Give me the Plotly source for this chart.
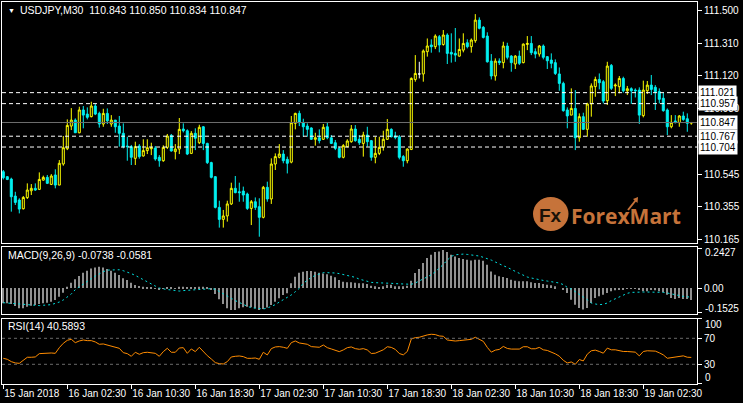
import plotly.graph_objects as go

# ---------------- data ----------------
opens = [
110.560,110.531,110.517,110.418,110.395,110.344,110.409,110.449,110.463,110.457,
110.511,110.527,110.486,110.541,110.482,110.605,110.694,110.826,110.861,110.787,
110.920,110.896,110.881,110.943,110.900,110.838,110.900,110.838,110.861,110.826,
110.784,110.710,110.706,110.638,110.710,110.652,110.683,110.694,110.698,110.644,
110.624,110.702,110.772,110.677,110.692,110.809,110.799,110.667,110.784,110.729,
110.822,110.725,110.613,110.531,110.352,110.282,110.302,110.372,110.463,110.443,
110.447,110.430,110.346,110.385,110.356,110.294,110.469,110.401,110.605,110.644,
110.663,110.632,110.616,110.842,110.900,110.846,110.826,110.815,110.749,110.758,
110.749,110.822,110.758,110.729,110.696,110.644,110.706,110.735,110.809,110.749,
110.725,110.774,110.741,110.644,110.667,110.702,110.749,110.807,110.768,110.764,
110.648,110.624,110.690,111.098,111.130,111.130,111.260,111.299,111.289,111.347,
111.302,111.357,111.256,111.250,111.234,111.269,111.312,111.289,111.324,111.444,
111.402,111.351,111.205,111.118,111.205,111.196,111.293,111.234,111.188,111.234,
111.196,111.302,111.308,111.260,111.246,111.293,111.231,111.211,111.196,111.130,
111.075,110.920,110.890,110.929,110.758,110.881,110.807,110.955,111.056,111.098,
111.085,110.974,111.180,111.060,111.056,111.104,111.032,111.044,111.036,111.036,
110.887,111.032,111.065,111.052,111.027,110.988,110.920,110.822,110.856,110.846,
110.885,110.869,110.843]
highs = [
110.570,110.535,110.525,110.443,110.405,110.418,110.492,110.488,110.492,110.556,
110.537,110.541,110.546,110.574,110.628,110.768,110.865,110.931,110.871,110.939,
110.943,110.935,110.968,110.955,110.910,110.927,110.929,110.890,110.861,110.885,
110.842,110.764,110.716,110.735,110.721,110.749,110.749,110.729,110.710,110.657,
110.714,110.780,110.780,110.721,110.873,110.842,110.807,110.797,110.813,110.834,
110.826,110.729,110.618,110.535,110.391,110.337,110.391,110.496,110.535,110.496,
110.473,110.438,110.395,110.410,110.405,110.477,110.502,110.638,110.667,110.721,
110.686,110.648,110.885,110.904,110.916,110.869,110.842,110.819,110.787,110.807,
110.838,110.846,110.774,110.745,110.706,110.721,110.749,110.832,110.832,110.774,
110.793,110.822,110.745,110.764,110.764,110.799,110.867,110.813,110.793,110.774,
110.657,110.696,111.110,111.240,111.201,111.273,111.337,111.332,111.361,111.357,
111.386,111.367,111.367,111.398,111.337,111.367,111.332,111.337,111.479,111.460,
111.409,111.373,111.246,111.221,111.221,111.318,111.312,111.240,111.240,111.266,
111.308,111.351,111.351,111.279,111.299,111.302,111.234,111.250,111.215,111.168,
111.085,110.935,111.046,111.036,110.900,110.904,110.962,111.075,111.114,111.133,
111.095,111.201,111.188,111.075,111.118,111.114,111.060,111.052,111.046,111.052,
111.091,111.089,111.124,111.065,111.046,111.021,110.929,110.890,110.890,110.890,
110.910,110.900,110.850]
lows = [
110.515,110.511,110.327,110.366,110.317,110.340,110.401,110.424,110.449,110.453,
110.508,110.488,110.482,110.463,110.482,110.595,110.686,110.803,110.787,110.784,
110.813,110.865,110.877,110.890,110.817,110.822,110.838,110.822,110.787,110.706,
110.696,110.624,110.599,110.599,110.636,110.648,110.663,110.657,110.624,110.589,
110.618,110.692,110.677,110.632,110.663,110.789,110.657,110.663,110.686,110.721,
110.686,110.605,110.521,110.346,110.234,110.234,110.269,110.366,110.434,110.385,
110.385,110.337,110.249,110.337,110.181,110.288,110.385,110.372,110.570,110.638,
110.609,110.550,110.609,110.807,110.826,110.764,110.764,110.745,110.712,110.725,
110.745,110.749,110.721,110.686,110.638,110.638,110.702,110.729,110.735,110.716,
110.648,110.706,110.624,110.609,110.657,110.683,110.745,110.760,110.749,110.632,
110.589,110.609,110.686,111.085,111.104,111.085,111.231,111.254,111.275,111.256,
111.295,111.188,111.196,111.201,111.231,111.256,111.279,111.254,111.312,111.390,
111.337,111.196,111.098,111.091,111.182,111.163,111.215,111.143,111.159,111.182,
111.192,111.269,111.240,111.221,111.231,111.215,111.159,111.163,111.124,111.032,
110.910,110.813,110.890,110.686,110.735,110.803,110.764,110.881,110.997,111.040,
110.958,110.949,111.036,111.001,111.017,111.021,111.007,110.955,110.993,110.838,
110.877,111.013,111.007,110.920,110.958,110.910,110.774,110.813,110.842,110.822,
110.857,110.793,110.834]
closes = [
110.525,110.515,110.414,110.381,110.342,110.410,110.453,110.463,110.453,110.515,
110.527,110.492,110.535,110.482,110.609,110.700,110.830,110.861,110.787,110.920,
110.890,110.877,110.943,110.896,110.838,110.900,110.857,110.861,110.822,110.784,
110.706,110.706,110.644,110.706,110.648,110.683,110.700,110.700,110.634,110.624,
110.702,110.768,110.681,110.692,110.807,110.799,110.663,110.784,110.755,110.819,
110.725,110.613,110.527,110.352,110.282,110.302,110.372,110.463,110.438,110.438,
110.424,110.346,110.385,110.352,110.294,110.469,110.401,110.605,110.648,110.663,
110.624,110.609,110.846,110.900,110.846,110.822,110.807,110.749,110.758,110.741,
110.819,110.758,110.725,110.696,110.644,110.712,110.739,110.809,110.741,110.729,
110.774,110.735,110.644,110.667,110.702,110.749,110.807,110.764,110.760,110.644,
110.624,110.692,111.104,111.133,111.130,111.264,111.293,111.289,111.351,111.299,
111.357,111.250,111.246,111.240,111.273,111.308,111.289,111.328,111.444,111.396,
111.343,111.201,111.118,111.205,111.196,111.293,111.227,111.196,111.234,111.192,
111.304,111.308,111.254,111.246,111.293,111.227,111.207,111.192,111.133,111.075,
110.916,110.885,110.929,110.758,110.881,110.807,110.955,111.060,111.098,111.079,
110.972,111.176,111.046,111.065,111.104,111.032,111.044,111.032,111.032,110.890,
111.036,111.065,111.040,111.027,110.982,110.916,110.822,110.848,110.846,110.885,
110.865,110.842,110.847]

macd_hist = [
-0.0948,-0.0948,-0.0989,-0.1112,-0.1257,-0.1257,-0.1154,-0.1092,-0.1051,-0.0989,
-0.0948,-0.0906,-0.0845,-0.0742,-0.0536,-0.0288,0.0082,0.0330,0.0536,0.0742,
0.0948,0.1071,0.1215,0.1277,0.1318,0.1277,0.1174,0.1071,0.0948,0.0803,
0.0597,0.0494,0.0330,0.0185,0.0124,0.0082,0.0041,0.0021,-0.0021,-0.0062,
-0.0041,0.0021,0.0021,-0.0021,0.0082,0.0082,0.0021,0.0021,0.0041,0.0082,
0.0082,0.0021,-0.0124,-0.0371,-0.0700,-0.0989,-0.1257,-0.1360,-0.1360,-0.1257,
-0.1195,-0.1154,-0.1195,-0.1257,-0.1360,-0.1298,-0.1215,-0.1051,-0.0845,-0.0639,
-0.0433,-0.0330,0.0288,0.0700,0.0948,0.1009,0.1051,0.1051,0.1009,0.0948,
0.0906,0.0845,0.0762,0.0659,0.0494,0.0391,0.0350,0.0350,0.0330,0.0288,
0.0288,0.0247,0.0144,0.0103,0.0041,0.0103,0.0206,0.0206,0.0103,0.0103,
0.0103,0.0144,0.0453,0.0927,0.1174,0.1545,0.1854,0.2060,0.2225,0.2266,
0.2350,0.2225,0.2060,0.1957,0.1854,0.1792,0.1751,0.1710,0.1751,0.1751,
0.1689,0.1442,0.1030,0.0824,0.0721,0.0680,0.0618,0.0515,0.0453,0.0412,
0.0412,0.0412,0.0350,0.0309,0.0309,0.0247,0.0206,0.0165,0.0103,0.0000,
-0.0103,-0.0309,-0.0721,-0.1030,-0.1236,-0.1339,-0.1236,-0.0927,-0.0618,-0.0515,
-0.0412,-0.0309,-0.0206,-0.0144,-0.0103,-0.0103,-0.0041,-0.0041,-0.0041,-0.0103,
-0.0206,-0.0206,-0.0103,-0.0144,-0.0206,-0.0268,-0.0412,-0.0618,-0.0680,-0.0618,
-0.0680,-0.0680,-0.0738]
macd_signal = [
-0.091,-0.093,-0.095,-0.097,-0.099,-0.101,-0.105,-0.107,-0.109,-0.109,
-0.107,-0.107,-0.103,-0.095,-0.087,-0.074,-0.056,-0.037,-0.010,0.008,
0.025,0.043,0.058,0.074,0.089,0.101,0.111,0.113,0.115,0.113,
0.107,0.099,0.089,0.078,0.064,0.049,0.035,0.023,0.012,0.000,
-0.006,-0.010,-0.012,-0.016,-0.019,-0.016,-0.014,-0.012,-0.012,-0.008,
-0.004,-0.002,-0.004,-0.008,-0.021,-0.033,-0.049,-0.064,-0.078,-0.091,
-0.105,-0.113,-0.122,-0.126,-0.128,-0.130,-0.124,-0.115,-0.103,-0.087,
-0.074,-0.060,-0.043,-0.023,-0.002,0.029,0.047,0.066,0.078,0.087,
0.095,0.095,0.095,0.093,0.089,0.084,0.078,0.072,0.066,0.055,
0.048,0.042,0.035,0.033,0.033,0.031,0.029,0.029,0.027,0.025,
0.023,0.021,0.023,0.031,0.043,0.054,0.066,0.082,0.101,0.122,
0.146,0.173,0.196,0.206,0.210,0.210,0.208,0.206,0.202,0.198,
0.190,0.183,0.173,0.161,0.148,0.138,0.128,0.113,0.103,0.091,
0.078,0.068,0.062,0.056,0.052,0.047,0.043,0.039,0.035,0.031,
0.021,0.004,-0.006,-0.021,-0.037,-0.056,-0.072,-0.093,-0.099,-0.103,
-0.101,-0.093,-0.078,-0.066,-0.052,-0.041,-0.033,-0.027,-0.025,-0.025,
-0.025,-0.025,-0.025,-0.025,-0.027,-0.027,-0.031,-0.037,-0.041,-0.047,
-0.052,-0.054,-0.0581]
rsi = [
39.2,37.7,34.1,32.1,31.5,36.2,40.8,40.8,41.3,46.4,
46.9,46.9,47.4,46.9,55.6,62.3,66.9,68.5,63.3,65.9,
67.4,66.4,66.4,64.4,60.8,61.3,59.7,57.7,57.2,54.6,
47.9,46.4,42.3,48.5,45.4,47.9,48.5,47.9,46.9,42.3,
49.5,54.6,48.5,48.5,55.1,55.6,46.9,53.6,49.5,56.2,
49.5,43.3,38.2,32.6,31.0,30.5,34.1,41.3,42.3,42.8,
41.8,39.2,39.2,39.7,37.7,48.5,44.4,54.1,56.7,57.2,
56.2,54.6,63.3,65.9,62.8,61.8,60.8,57.2,56.7,56.2,
59.7,55.6,53.6,52.1,49.5,52.1,55.6,56.7,54.1,53.1,
54.1,52.1,46.6,47.1,49.2,52.3,57.0,56.0,52.9,46.6,
44.5,49.7,69.0,71.0,71.6,73.6,75.2,76.2,75.7,73.6,
73.1,67.4,66.4,65.8,66.4,66.9,66.9,68.4,71.6,68.4,
65.3,56.0,48.7,51.8,52.9,57.5,54.4,53.4,53.9,53.4,
57.0,57.0,53.9,53.9,56.0,52.3,51.3,49.2,46.1,42.5,
36.2,32.1,33.6,30.0,37.3,35.2,45.6,50.8,51.8,49.7,
47.1,54.9,52.3,52.3,50.8,49.7,49.7,49.7,48.7,43.0,
49.7,50.8,50.8,50.3,47.7,44.5,39.3,40.4,41.4,43.0,
43.0,40.9,40.5893]

time_tick_pos = [0, 16, 32, 48, 64, 80, 96, 112, 128, 144, 160]
time_tick_labels = ["15 Jan 2018", "16 Jan 02:30", "16 Jan 10:30", "16 Jan 18:30",
                    "17 Jan 02:30", "17 Jan 10:30", "17 Jan 18:30", "18 Jan 02:30",
                    "18 Jan 10:30", "18 Jan 18:30", "19 Jan 02:30"]
price_ticks = [111.500, 111.310, 111.120, 110.930, 110.545, 110.355, 110.165]
level_lines = [111.021, 110.957, 110.767, 110.704]
last_price = 110.847
macd_ticks = [0.2427, 0.0, -0.1525]
macd_tick_text = ["0.2427", "0.00", "-0.1525"]
rsi_ticks = [100, 70, 30, 0]
rsi_levels = [70, 30]

# ---------------- figure ----------------
W, H = 743, 403
n = len(closes)
idx = list(range(n))
FONT = "Liberation Sans"
TXT = dict(family=FONT, size=10, color="#FFFFFF")

def px(v):
    return v / W

def py(v):
    return 1 - v / H

up_o, up_h, up_l, up_c = [], [], [], []
dn_o, dn_h, dn_l, dn_c = [], [], [], []
dj_o, dj_h, dj_l, dj_c = [], [], [], []
for o, h, l, c in zip(opens, highs, lows, closes):
    groups = [(up_o, up_h, up_l, up_c), (dn_o, dn_h, dn_l, dn_c), (dj_o, dj_h, dj_l, dj_c)]
    k = 0 if c > o else (1 if c < o else 2)
    for gi, g in enumerate(groups):
        vals = (o, h, l, c) if gi == k else (None, None, None, None)
        for arr, v in zip(g, vals):
            arr.append(v)

fig = go.Figure()

def candle(o, h, l, c, line_col, fill_col):
    spec = dict(line=dict(color=line_col, width=1), fillcolor=fill_col)
    return go.Candlestick(x=idx, open=o, high=h, low=l, close=c,
                          increasing=spec, decreasing=spec, whiskerwidth=0,
                          hoverinfo="skip", xaxis="x", yaxis="y")

fig.add_trace(candle(up_o, up_h, up_l, up_c, "#FFFF00", "#000000"))
fig.add_trace(candle(dn_o, dn_h, dn_l, dn_c, "#00F0F0", "#00F0F0"))
fig.add_trace(candle(dj_o, dj_h, dj_l, dj_c, "#FFFFFF", "#FFFFFF"))

fig.add_trace(go.Bar(x=idx, y=macd_hist, width=0.28, marker=dict(color="#909090", line=dict(width=0)),
                     xaxis="x2", yaxis="y2", hoverinfo="skip"))
fig.add_trace(go.Scatter(x=idx, y=macd_signal, mode="lines",
                         line=dict(color="#00E0E0", width=1, dash="2px,3px"),
                         xaxis="x2", yaxis="y2", hoverinfo="skip"))
fig.add_trace(go.Scatter(x=idx, y=rsi, mode="lines", line=dict(color="#FF8C00", width=1),
                         xaxis="x3", yaxis="y3", hoverinfo="skip"))

xdom = [px(2), px(697)]
xrange_ = [-0.325, 173.425]
common_x = dict(domain=xdom, range=xrange_, showline=True, mirror=True, linecolor="#FFFFFF",
                linewidth=1, showgrid=False, zeroline=False, fixedrange=True, automargin=False)
common_y = dict(side="right", showline=True, mirror=True, linecolor="#FFFFFF", linewidth=1,
                showgrid=False, zeroline=False, ticks="outside", ticklen=4, tickcolor="#FFFFFF",
                automargin=False, tickfont=TXT)

shapes = []
for lv in level_lines:
    shapes.append(dict(type="line", xref="x domain", yref="y", x0=0, x1=1, y0=lv, y1=lv,
                       line=dict(color="#FFFFFF", width=1, dash="4px,3px")))
shapes.append(dict(type="line", xref="x domain", yref="y", x0=0, x1=1, y0=last_price, y1=last_price,
                   line=dict(color="#6E6E6E", width=1)))
for lv in rsi_levels:
    shapes.append(dict(type="line", xref="x3 domain", yref="y3", x0=0, x1=1, y0=lv, y1=lv,
                       line=dict(color="#6A6A6A", width=1, dash="3px,3px")))
# logo circle and small arrow
shapes.append(dict(type="circle", xref="paper", yref="paper", x0=px(533), x1=px(568.5),
                   y0=py(231), y1=py(197), fillcolor="#C6733A", line=dict(width=0), layer="above"))
shapes.append(dict(type="line", xref="paper", yref="paper", x0=px(628), x1=px(636),
                   y0=py(210), y1=py(200), line=dict(color="#C6733A", width=2), layer="above"))
shapes.append(dict(type="path", xref="paper", yref="paper",
                   path=f"M {px(633)},{py(199)} L {px(638)},{py(197)} L {px(637.5)},{py(203)} Z",
                   fillcolor="#C6733A", line=dict(width=0), layer="above"))

annotations = []
for lv in level_lines + [last_price]:
    annotations.append(dict(x=px(698), xref="paper", xanchor="left", y=lv, yref="y", yanchor="middle",
                            text=f"{lv:.3f}", showarrow=False, bgcolor="#FFFFFF", borderpad=1,
                            font=dict(family=FONT, size=10, color="#000000")))
# edge axis labels drawn inside the panel like the terminal does
edge_labels = [("0.2427", 252.5), ("-0.1525", 308.5), ("100", 324.5), ("0", 377.5)]
for t, yy in edge_labels:
    annotations.append(dict(x=px(703), y=py(yy), xref="paper", yref="paper", xanchor="left",
                            yanchor="middle", text=t, showarrow=False, font=TXT))
annotations += [
    dict(x=px(6), y=py(10.5), xref="paper", yref="paper", xanchor="left", yanchor="middle",
         text="▼", showarrow=False, font=dict(family=FONT, size=7, color="#FFFFFF")),
    dict(x=px(18), y=py(10.5), xref="paper", yref="paper", xanchor="left", yanchor="middle",
         text="USDJPY,M30  110.843 110.850 110.834 110.847", showarrow=False,
         font=dict(family=FONT, size=10.5, color="#FFFFFF")),
    dict(x=px(6), y=py(255), xref="paper", yref="paper", xanchor="left", yanchor="middle",
         text="MACD(9,26,9) -0.0738 -0.0581", showarrow=False,
         font=dict(family=FONT, size=10.5, color="#FFFFFF")),
    dict(x=px(6), y=py(326), xref="paper", yref="paper", xanchor="left", yanchor="middle",
         text="RSI(14) 40.5893", showarrow=False,
         font=dict(family=FONT, size=10.5, color="#FFFFFF")),
    dict(x=px(550.5), y=py(215), xref="paper", yref="paper", xanchor="center", yanchor="middle",
         text="<b>Fx</b>", showarrow=False, font=dict(family=FONT, size=19, color="#1A1208")),
    dict(x=px(569), y=py(216), xref="paper", yref="paper", xanchor="left", yanchor="middle",
         text="<b>ForexMart</b>", showarrow=False, font=dict(family="Open Sans", size=21, color="#C6733A")),
]

fig.update_layout(
    width=W, height=H, margin=dict(l=0, r=0, t=0, b=0, autoexpand=False),
    paper_bgcolor="#000000", plot_bgcolor="#000000", showlegend=False,
    boxgap=0.28,
    xaxis=dict(common_x, anchor="y", showticklabels=False, ticks="", rangeslider=dict(visible=False)),
    xaxis2=dict(common_x, anchor="y2", matches="x", showticklabels=False, ticks=""),
    xaxis3=dict(common_x, anchor="y3", matches="x", tickmode="array", tickvals=time_tick_pos,
                ticktext=time_tick_labels, ticks="outside", ticklen=4, tickcolor="#FFFFFF",
                ticklabelposition="outside right", tickangle=0, tickfont=TXT),
    yaxis=dict(common_y, anchor="x", domain=[py(243), py(2)],
               range=[110.1443, 111.5496], tickmode="array", tickvals=price_ticks,
               ticktext=[f"{v:.3f}" for v in price_ticks]),
    yaxis2=dict(common_y, anchor="x2", domain=[py(314), py(247)], range=[-0.161, 0.254],
                tickmode="array", tickvals=macd_ticks,
                ticktext=["" if t in ("0.2427", "-0.1525") else t for t in macd_tick_text]),
    yaxis3=dict(common_y, anchor="x3", domain=[py(383.8), py(318.8)], range=[0, 100],
                tickmode="array", tickvals=rsi_ticks,
                ticktext=["" if v in (100, 0) else str(v) for v in rsi_ticks]),
    shapes=shapes, annotations=annotations,
)

fig.write_html("out.html", config={"displayModeBar": False},
               post_script="document.body.style.margin='0';document.body.style.background='#000';")
